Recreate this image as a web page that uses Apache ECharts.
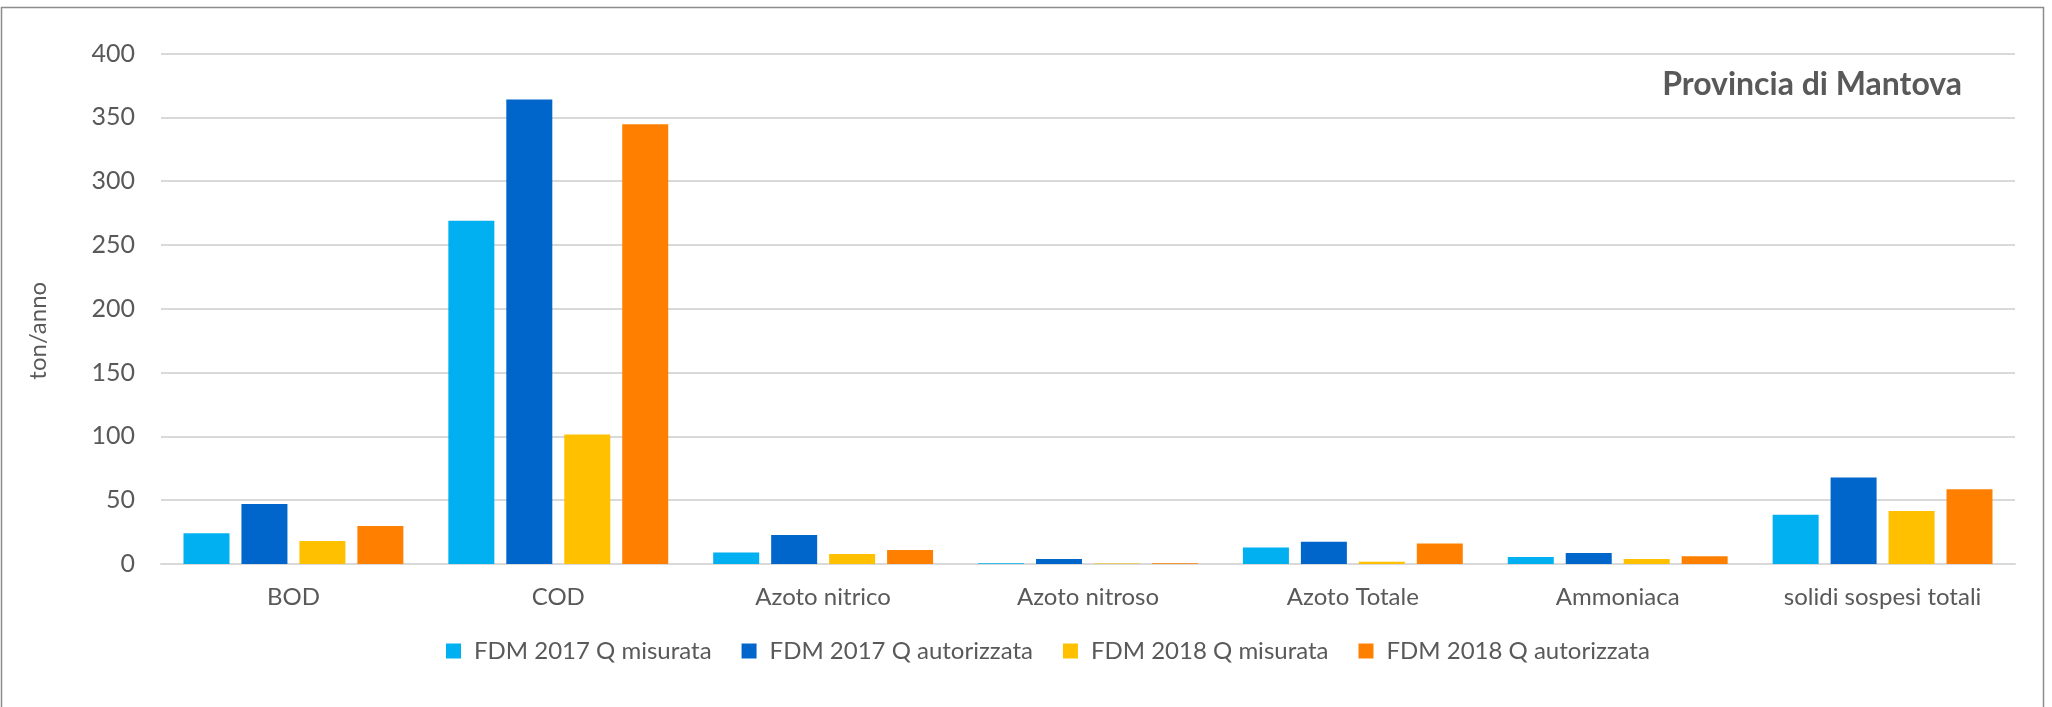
<!DOCTYPE html>
<html>
<head>
<meta charset="utf-8">
<script src="https://cdn.jsdelivr.net/npm/echarts@6/dist/echarts.min.js"></script>
<style>
  html, body { margin: 0; padding: 0; background: #fff; }
  #chart { width: 2052px; height: 707px; }
</style>
</head>
<body>
<div id="chart"></div>
<script>
const categories = ["BOD", "COD", "Azoto nitrico", "Azoto nitroso", "Azoto Totale", "Ammoniaca", "solidi sospesi totali"];
const fdm2017Misurata = [24, 269, 9, 0.5, 13, 5.5, 38.5];
const fdm2017Autorizzata = [47, 364, 22.7, 3.9, 17.4, 8.6, 67.7];
const fdm2018Misurata = [18, 101.5, 7.8, 0.3, 1.8, 3.9, 41.5];
const fdm2018Autorizzata = [29.7, 344.5, 10.9, 0.5, 16.1, 6, 58.6];
const yTicks = { min: 0, max: 400, interval: 50 };

const textColor = "#595959";
const fontFamily = "Lato, 'Open Sans', sans-serif";

const chart = echarts.init(document.getElementById("chart"));

function barSeries(name, data, color) {
  return {
    name: name,
    type: "bar",
    data: data,
    barWidth: 46,
    barGap: "26%",
    itemStyle: { color: color },
    animation: false
  };
}

chart.setOption({
  textStyle: { fontFamily: fontFamily },
  title: {
    text: "Provincia di Mantova",
    right: 90,
    top: 69,
    padding: 0,
    textStyle: { color: textColor, fontSize: 32, fontWeight: "bold", fontFamily: fontFamily }
  },
  legend: {
    data: ["FDM 2017 Q misurata", "FDM 2017 Q autorizzata", "FDM 2018 Q misurata", "FDM 2018 Q autorizzata"],
    left: 446,
    top: 639,
    padding: 0,
    icon: "rect",
    itemWidth: 15,
    itemHeight: 15,
    itemGap: 30,
    textStyle: { color: textColor, fontSize: 24, padding: [0, 0, 0, 8], fontFamily: fontFamily }
  },
  grid: {
    left: 161,
    right: 37,
    top: 53.5,
    bottom: 143,
    containLabel: false,
    outerBoundsMode: "none"
  },
  xAxis: {
    type: "category",
    data: categories,
    axisLine: { lineStyle: { color: "#d9d9d9", width: 2 } },
    axisTick: { show: false },
    axisLabel: { color: textColor, fontSize: 24, margin: 21, interval: 0, fontFamily: fontFamily }
  },
  yAxis: {
    type: "value",
    min: yTicks.min,
    max: yTicks.max,
    interval: yTicks.interval,
    name: "ton/anno",
    nameLocation: "middle",
    nameRotate: 90,
    nameGap: 111,
    nameTextStyle: { color: textColor, fontSize: 24, padding: [0, 44, 0, 0], fontFamily: fontFamily },
    axisLine: { show: false },
    axisTick: { show: false },
    axisLabel: { color: textColor, fontSize: 25, margin: 26, fontFamily: fontFamily },
    splitLine: { lineStyle: { color: "#d9d9d9", width: 2 } }
  },
  graphic: [{
    type: "rect",
    shape: { x: 1.5, y: 7.5, width: 2042, height: 740 },
    style: { fill: "none", stroke: "#8c8c8c", lineWidth: 1.5 },
    silent: true
  }],
  series: [
    barSeries("FDM 2017 Q misurata", fdm2017Misurata, "#00B0F0"),
    barSeries("FDM 2017 Q autorizzata", fdm2017Autorizzata, "#0066CC"),
    barSeries("FDM 2018 Q misurata", fdm2018Misurata, "#FFC000"),
    barSeries("FDM 2018 Q autorizzata", fdm2018Autorizzata, "#FF8000")
  ]
});

window.addEventListener("resize", () => chart.resize());
</script>
</body>
</html>
